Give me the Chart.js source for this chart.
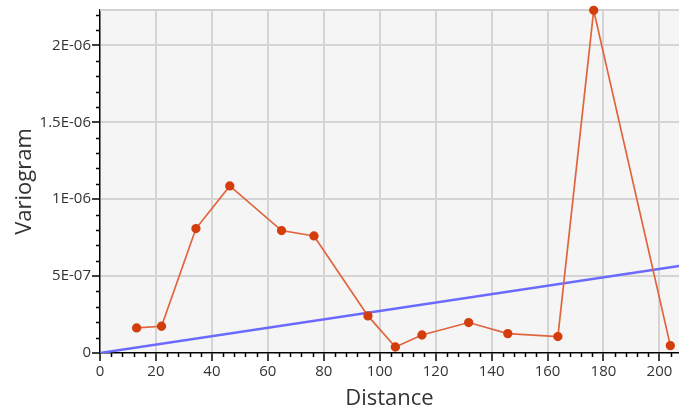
<!DOCTYPE html>
<html lang="en">
<head>
  <meta charset="UTF-8" />
  <title>Variogram</title>
  <script src="https://cdn.jsdelivr.net/npm/chart.js"></script>
</head>
<style>
    body {
      margin: 0;
      background: #fff;
    }
    #grafico {
      display: block;
    }
  </style>
<body>
  <canvas id="grafico" width="679" height="413"></canvas>
  <script>
    // experimental variogram points
    const distancias = [13.1, 22.0, 34.3, 46.4, 64.9, 76.5, 95.8, 105.6, 115.1, 131.8, 145.8, 163.7, 176.5, 203.9];
    const variograma = [1.63e-7, 1.74e-7, 8.09e-7, 1.086e-6, 7.96e-7, 7.61e-7, 2.41e-7, 3.9e-8, 1.17e-7, 1.98e-7, 1.26e-7, 1.07e-7, 2.228e-6, 4.8e-8];

    // model line (linear)
    const modeloDist = [0, 207];
    const modeloVal = [0, 5.65e-7];

    // ticks
    const xTicks = [0, 20, 40, 60, 80, 100, 120, 140, 160, 180, 200];
    const yTicks = [0, 5e-7, 1e-6, 1.5e-6, 2e-6];
    const yTickLabels = ['0', '5E-07', '1E-06', '1.5E-06', '2E-06'];

    const fonte = '"Open Sans", "DejaVu Sans", sans-serif';

    // fundo, borda de cima e ticks menores
    const moldura = {
      id: 'moldura',
      beforeDraw(chart) {
        const { ctx, chartArea: a } = chart;
        ctx.save();
        ctx.fillStyle = '#f5f5f5';
        ctx.fillRect(a.left, a.top, a.right - a.left, a.bottom - a.top);
        ctx.restore();
      },
      beforeDatasetsDraw(chart) {
        const { ctx, chartArea: a } = chart;
        ctx.save();
        ctx.strokeStyle = '#d2d2d2';
        ctx.lineWidth = 2;
        ctx.beginPath();
        ctx.moveTo(a.left, a.top);
        ctx.lineTo(a.right, a.top);
        ctx.stroke();
        ctx.restore();
      },
      afterDraw(chart) {
        const { ctx, chartArea: a, scales } = chart;
        ctx.save();
        ctx.strokeStyle = '#000';
        ctx.lineWidth = 1.5;
        ctx.beginPath();
        for (let v = 4; v <= scales.x.max; v += 4) {
          if (v % 20 === 0) continue;
          const px = Math.round(scales.x.getPixelForValue(v)) + 0.5;
          ctx.moveTo(px, a.bottom);
          ctx.lineTo(px, a.bottom + 4);
        }
        for (let i = 1; i * 1e-7 <= scales.y.max; i++) {
          if (i % 5 === 0) continue;
          const py = Math.round(scales.y.getPixelForValue(i * 1e-7)) + 0.5;
          ctx.moveTo(a.left, py);
          ctx.lineTo(a.left - 4, py);
        }
        ctx.stroke();
        ctx.restore();
      }
    };

    const ctx = document.getElementById('grafico').getContext('2d');
    new Chart(ctx, {
      type: 'scatter',
      data: {
        datasets: [
          {
            label: 'Modelo',
            data: modeloDist.map((d, i) => ({ x: d, y: modeloVal[i] })),
            showLine: true,
            borderColor: '#6a6aff',
            borderWidth: 2.5,
            pointRadius: 0,
            order: 2
          },
          {
            label: 'Variograma',
            data: distancias.map((d, i) => ({ x: d, y: variograma[i] })),
            showLine: true,
            borderColor: '#e0643c',
            borderWidth: 1.7,
            backgroundColor: '#d43d0c',
            pointBackgroundColor: '#d43d0c',
            pointBorderColor: '#d43d0c',
            pointRadius: 3.8,
            clip: false,
            order: 1
          }
        ]
      },
      options: {
        responsive: false,
        animation: false,
        layout: { autoPadding: false, padding: { top: 10, right: 0, left: 0, bottom: 0 } },
        plugins: {
          legend: { display: false },
          tooltip: { enabled: false }
        },
        scales: {
          x: {
            type: 'linear',
            min: 0,
            max: 207,
            afterFit: (s) => { s.height = 60; s.paddingLeft = 0; s.paddingRight = 0; },
            afterBuildTicks: (s) => { s.ticks = xTicks.map(v => ({ value: v })); },
            ticks: {
              includeBounds: false,
              autoSkip: false,
              maxRotation: 0,
              padding: 2,
              color: '#333',
              font: { family: fonte, size: 15 }
            },
            grid: {
              color: (c) => c.tick && c.tick.value === 0 ? 'rgba(0,0,0,0)' : '#d4d4d4',
              lineWidth: 2,
              tickColor: '#000',
              tickLength: 8,
              tickWidth: 1.5
            },
            border: { color: '#000', width: 1.5 },
            title: {
              display: true,
              text: 'Distance',
              color: '#333',
              padding: { top: 0, bottom: 1 },
              font: { family: fonte, size: 22 }
            }
          },
          y: {
            type: 'linear',
            min: 0,
            max: 2.23e-6,
            afterFit: (s) => { s.width = 100; s.paddingTop = 0; s.paddingBottom = 0; },
            afterBuildTicks: (s) => { s.ticks = yTicks.map(v => ({ value: v })); },
            ticks: {
              includeBounds: false,
              autoSkip: false,
              padding: 1,
              color: '#333',
              font: { family: fonte, size: 15 },
              callback: (v, i) => yTickLabels[i]
            },
            grid: {
              color: (c) => c.tick && c.tick.value === 0 ? 'rgba(0,0,0,0)' : '#d4d4d4',
              lineWidth: 2,
              tickColor: '#000',
              tickLength: 8,
              tickWidth: 1.5
            },
            border: { color: '#000', width: 1.5 },
            title: {
              display: true,
              text: 'Variogram',
              color: '#333',
              padding: { top: 12, bottom: 0 },
              font: { family: fonte, size: 22 }
            }
          }
        }
      },
      plugins: [moldura]
    });
  </script>
</body>
</html>
